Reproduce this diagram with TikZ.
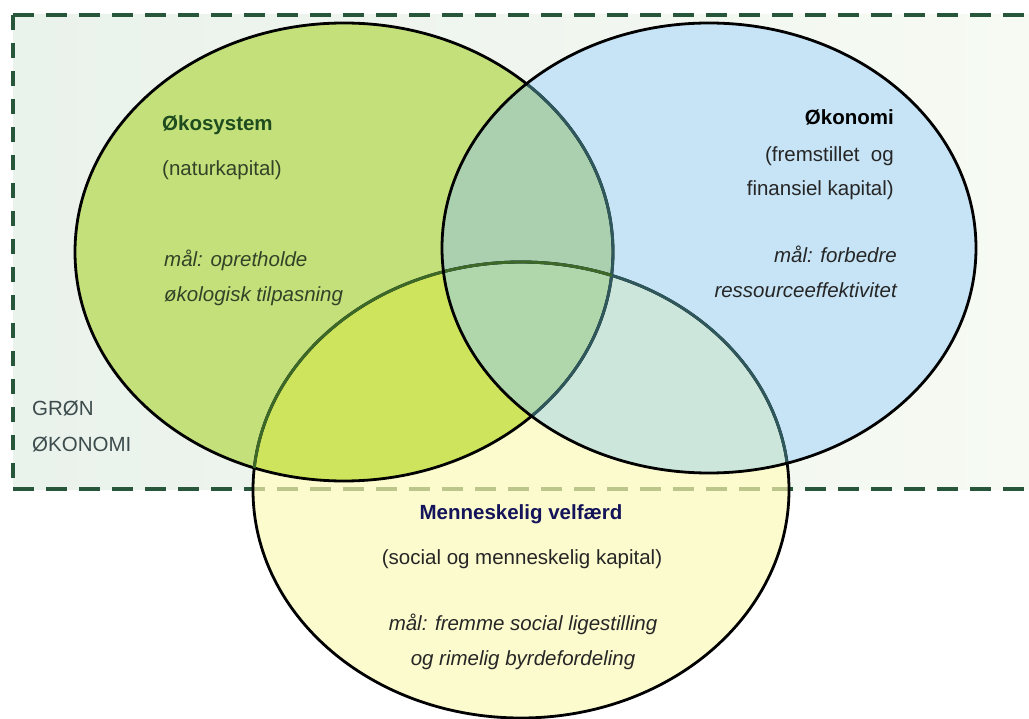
\documentclass[tikz,border=0pt]{standalone}
\usepackage{fontspec}
\setmainfont{Liberation Sans}
\begin{document}
\begin{tikzpicture}[x=1pt,y=-1pt,
  txt/.style={inner sep=0pt, font=\fontsize{20.5}{24}\selectfont},
  outer/.style={draw=black, line width=2.8pt},
  innerR/.style={draw={rgb,255:red,46;green,88;blue,92}, line width=2.9pt},
  innerL/.style={draw={rgb,255:red,60;green,104;blue,40}, line width=2.9pt},
  dashH/.style={draw={rgb,255:red,40;green,86;blue,58}, line width=3.4pt, dash pattern=on 21pt off 12pt},
  dashV/.style={draw={rgb,255:red,40;green,86;blue,58}, line width=3.4pt, dash pattern=on 15pt off 13pt},
  dashLight/.style={draw={rgb,255:red,188;green,198;blue,138}, line width=3.4pt, dash pattern=on 21pt off 12pt}
]
\definecolor{lcol}{RGB}{196,224,122}
\definecolor{rcol}{RGB}{198,228,246}
\definecolor{bcol}{RGB}{252,251,206}
\definecolor{lbcol}{RGB}{206,228,92}
\definecolor{lrcol}{RGB}{170,208,176}
\definecolor{rbcol}{RGB}{204,230,220}
\definecolor{lrbcol}{RGB}{176,214,172}
\definecolor{bgl}{RGB}{234,242,236}
\definecolor{bgr}{RGB}{246,250,242}
\definecolor{ecotxt}{RGB}{30,76,30}
\definecolor{ecosub}{RGB}{52,66,40}
\definecolor{navy}{RGB}{20,20,90}
\definecolor{groen}{RGB}{60,76,76}

\useasboundingbox (0,0) rectangle (1029,719);
\fill[white] (0,0) rectangle (1029,719);

% background of green economy area
\shade[left color=bgl, right color=bgr] (13,15) rectangle (1029,489);

% ellipse fills
\fill[bcol] (521,490) ellipse [x radius=268, y radius=228];
\fill[lcol] (344,252) ellipse [x radius=269, y radius=229];
\fill[rcol] (709,248) ellipse [x radius=267, y radius=225];
\begin{scope}
  \clip (344,252) ellipse [x radius=269, y radius=229];
  \fill[lbcol] (521,490) ellipse [x radius=268, y radius=228];
  \fill[lrcol] (709,248) ellipse [x radius=267, y radius=225];
\end{scope}
\begin{scope}
  \clip (709,248) ellipse [x radius=267, y radius=225];
  \fill[rbcol] (521,490) ellipse [x radius=268, y radius=228];
\end{scope}
\begin{scope}
  \clip (344,252) ellipse [x radius=269, y radius=229];
  \clip (709,248) ellipse [x radius=267, y radius=225];
  \fill[lrbcol] (521,490) ellipse [x radius=268, y radius=228];
\end{scope}

% dashed frame
\coordinate (c1) at (1040,15);
\coordinate (c2) at (13,15);
\coordinate (c3) at (13,489);
\coordinate (c4) at (1040,489);
\draw[dashH] (c2) -- (c1);
\draw[dashV] (c2) -- (c3);
\draw[dashH] (c3) -- (c4);
\begin{scope}
  \clip (521,490) ellipse [x radius=268, y radius=228];
  \draw[dashLight] (c3) -- (c4);
\end{scope}

% outlines
\draw[outer] (344,252) ellipse [x radius=269, y radius=229];
\draw[outer] (521,490) ellipse [x radius=268, y radius=228];
\begin{scope}
  \clip (709,248) ellipse [x radius=267, y radius=225];
  \draw[innerR] (344,252) ellipse [x radius=269, y radius=229];
  \draw[innerR] (521,490) ellipse [x radius=268, y radius=228];
\end{scope}
\begin{scope}
  \clip (344,252) ellipse [x radius=269, y radius=229];
  \draw[innerL] (521,490) ellipse [x radius=268, y radius=228];
\end{scope}
\draw[outer] (709,248) ellipse [x radius=267, y radius=225];

% texts: ecosystem
\node[txt, anchor=base west, text=ecotxt, font=\fontsize{20.5}{24}\selectfont\bfseries] (eco1) at (162,131) {Økosystem};
\node[txt, anchor=base west, text=ecosub] (eco2) at (162,176) {(naturkapital)};
\node[txt, anchor=base west, text=ecosub, font=\fontsize{20.5}{24}\selectfont\itshape] (eco3) at (164,267) {mål: opretholde};
\node[txt, anchor=base west, text=ecosub, font=\fontsize{20.5}{24}\selectfont\itshape] (eco4) at (164,302) {økologisk tilpasning};

% economy
\node[txt, anchor=base east, text=black, font=\fontsize{20.5}{24}\selectfont\bfseries] (oek1) at (894,125) {Økonomi};
\node[txt, anchor=base east, text=black!85] (oek2) at (894,162) {(fremstillet\ \ og};
\node[txt, anchor=base east, text=black!85] (oek3) at (894,196) {finansiel kapital)};
\node[txt, anchor=base east, text=black!85, font=\fontsize{20.5}{24}\selectfont\itshape] (oek4) at (897,263) {mål: forbedre};
\node[txt, anchor=base east, text=black!85, font=\fontsize{20.5}{24}\selectfont\itshape] (oek5) at (897,298) {ressourceeffektivitet};

% welfare
\node[txt, anchor=base, text=navy, font=\fontsize{20.5}{24}\selectfont\bfseries] (vel1) at (521,519) {Menneskelig velfærd};
\node[txt, anchor=base, text=black!85] (vel2) at (522,564) {(social og menneskelig kapital)};
\node[txt, anchor=base, text=black!85, font=\fontsize{20.5}{24}\selectfont\itshape] (vel3) at (523,630) {mål: fremme social ligestilling};
\node[txt, anchor=base, text=black!85, font=\fontsize{20.5}{24}\selectfont\itshape] (vel4) at (523,665) {og rimelig byrdefordeling};

% green economy label
\node[txt, anchor=base west, text=groen] (g1) at (32,416) {GRØN};
\node[txt, anchor=base west, text=groen] (g2) at (32,452) {ØKONOMI};
\end{tikzpicture}
\end{document}
